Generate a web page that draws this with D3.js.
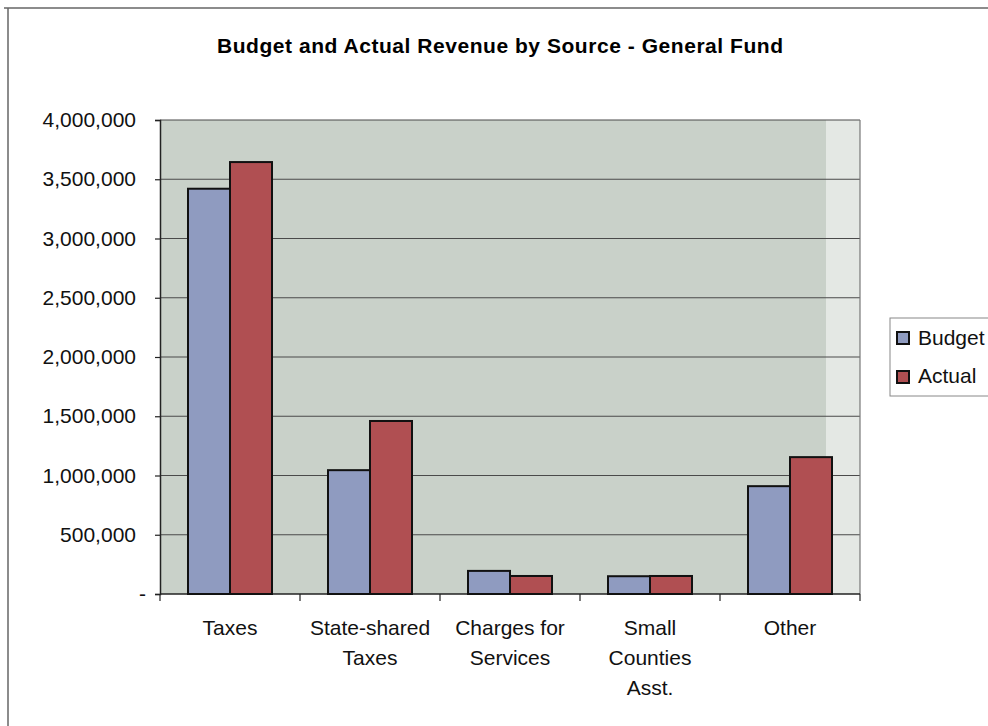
<!DOCTYPE html>
<html><head><meta charset="utf-8">
<script src="https://cdn.jsdelivr.net/npm/d3@7"></script>
<style>body{margin:0;background:#fff}svg{display:block}</style>
</head><body>
<script>
const categories = [["Taxes"], ["State-shared", "Taxes"], ["Charges for", "Services"], ["Small", "Counties", "Asst."], ["Other"]];
const budget = [3420000, 1045000, 195000, 150000, 910000];
const actual = [3645000, 1460000, 152000, 152000, 1155000];
const seriesNames = ["Budget", "Actual"];
const seriesColors = ["#8f9bc0", "#b04f52"];
const yTicks = [0, 500000, 1000000, 1500000, 2000000, 2500000, 3000000, 3500000, 4000000];
const title = "Budget and Actual Revenue by Source - General Fund";

const W = 988, H = 726;
const m = {left: 160, right: 860, top: 120, bottom: 594};
const svg = d3.select("body").append("svg").attr("width", W).attr("height", H);
const font = "Liberation Sans, Arial, sans-serif";

// outer frame
svg.append("line").attr("x1", 4).attr("x2", W).attr("y1", 8).attr("y2", 8).attr("stroke", "#666").attr("stroke-width", 1.5);
svg.append("line").attr("x1", 8).attr("x2", 8).attr("y1", 8).attr("y2", H).attr("stroke", "#666").attr("stroke-width", 1.5);

svg.append("text").attr("x", 217).attr("y", 53)
  .attr("font-family", font).attr("font-weight", "bold").attr("font-size", 21)
  .attr("textLength", 566).attr("lengthAdjust", "spacing")
  .text(title);

const x0 = d3.scaleBand().domain(d3.range(categories.length)).range([m.left, m.right]).paddingInner(0.4).paddingOuter(0.2);
const xOuter = d3.scaleBand().domain(d3.range(categories.length)).range([m.left, m.right]);
const x1 = d3.scaleBand().domain(d3.range(2)).range([0, x0.bandwidth()]);
const y = d3.scaleLinear().domain([0, 4000000]).range([m.bottom, m.top]);

// plot background
svg.append("rect").attr("x", m.left).attr("y", m.top).attr("width", m.right - m.left).attr("height", m.bottom - m.top).attr("fill", "#c9d1c9");
svg.append("rect").attr("x", 826).attr("y", m.top).attr("width", m.right - 826).attr("height", m.bottom - m.top).attr("fill", "#e4e8e4");

// gridlines
svg.append("g").selectAll("line").data(yTicks.slice(1)).join("line")
  .attr("x1", m.left).attr("x2", m.right).attr("y1", d => y(d)).attr("y2", d => y(d))
  .attr("stroke", "#4a4a4a").attr("stroke-width", 1.2);
// right border
svg.append("line").attr("x1", m.right).attr("x2", m.right).attr("y1", m.top).attr("y2", m.bottom).attr("stroke", "#777").attr("stroke-width", 1.2);

// y axis
const yAxis = d3.axisLeft(y).tickValues(yTicks).tickSize(5).tickPadding(19)
  .tickFormat(d => d === 0 ? "-" : d3.format(",")(d));
const yg = svg.append("g").attr("transform", `translate(${m.left},0)`).call(yAxis);
yg.select(".domain").attr("stroke", "#222").attr("stroke-width", 1.5);
yg.selectAll(".tick line").attr("stroke", "#222").attr("stroke-width", 1.2);
yg.selectAll("text").attr("font-family", font).attr("font-size", 21).attr("fill", "#111");
yg.selectAll(".tick").filter(d => d === 0).select("text").attr("dx", 10);

// x axis
const xg = svg.append("g").attr("transform", `translate(0,${m.bottom})`);
xg.append("line").attr("x1", m.left).attr("x2", m.right).attr("stroke", "#222").attr("stroke-width", 1.5);
const bounds = d3.range(categories.length + 1).map(i => i < categories.length ? xOuter(i) : xOuter(i - 1) + xOuter.bandwidth());
xg.selectAll("line.tk").data(bounds).join("line").attr("class", "tk")
  .attr("x1", d => d).attr("x2", d => d).attr("y1", 0).attr("y2", 7).attr("stroke", "#222").attr("stroke-width", 1.2);

const lab = svg.append("g");
categories.forEach((lines, i) => {
  const cx = xOuter(i) + xOuter.bandwidth() / 2;
  lines.forEach((t, j) => {
    lab.append("text").attr("x", cx).attr("y", 635 + j * 30).attr("text-anchor", "middle")
      .attr("font-family", font).attr("font-size", 21).attr("fill", "#111").text(t);
  });
});

// bars
const data = categories.map((c, i) => [budget[i], actual[i]]);
const groups = svg.append("g").selectAll("g").data(data).join("g")
  .attr("transform", (d, i) => `translate(${x0(i)},0)`);
groups.selectAll("rect").data(d => d).join("rect")
  .attr("x", (d, j) => x1(j)).attr("width", x1.bandwidth())
  .attr("y", d => y(d)).attr("height", d => y(0) - y(d))
  .attr("fill", (d, j) => seriesColors[j]).attr("stroke", "#111").attr("stroke-width", 2);

// legend
const lg = svg.append("g").attr("transform", "translate(890,318)");
lg.append("rect").attr("width", 100).attr("height", 78).attr("fill", "#fff").attr("stroke", "#888").attr("stroke-width", 1);
seriesNames.forEach((s, i) => {
  lg.append("rect").attr("x", 7).attr("y", 14 + i * 39).attr("width", 12).attr("height", 12)
    .attr("fill", seriesColors[i]).attr("stroke", "#111").attr("stroke-width", 2);
  lg.append("text").attr("x", 28).attr("y", 27 + i * 38).attr("font-family", font).attr("font-size", 21).attr("fill", "#111").text(s);
});
</script>
</body></html>
